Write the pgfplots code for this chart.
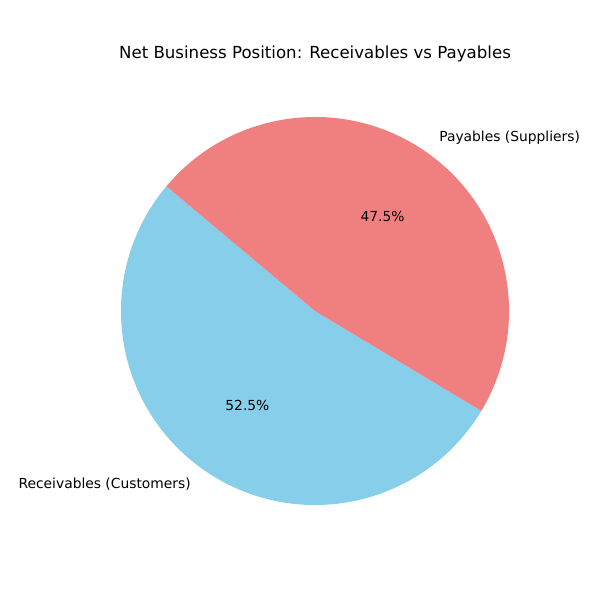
\documentclass[border=0pt]{standalone}
\usepackage{pgfplots}
\pgfplotsset{compat=1.18}
\usepackage{fontspec}
\setmainfont{DejaVu Sans}
\definecolor{skyb}{HTML}{87CEEB}
\definecolor{lcoral}{HTML}{F08080}
\begin{document}
\begin{tikzpicture}
\pgfmathsetmacro{\va}{52.5}% Receivables
\pgfmathsetmacro{\vb}{47.5}% Payables
\pgfmathsetmacro{\st}{140}
\pgfmathsetmacro{\ea}{\st+\va*3.6}
\pgfmathsetmacro{\eb}{\ea+\vb*3.6}
\begin{axis}[width=433.6pt,height=433.6pt,scale only axis,xmin=0,xmax=600,ymin=0,ymax=600,hide axis,clip=false]
\path[fill=white] (axis cs:0,0) rectangle (axis cs:600,600);
\fill[skyb] (axis cs:315,289) -- ++(\st:140.2pt) arc[start angle=\st,end angle=\ea,radius=140.2pt] -- cycle;
\fill[lcoral] (axis cs:315,289) -- ++(\ea:140.2pt) arc[start angle=\ea,end angle=\eb,radius=140.2pt] -- cycle;
\node[font=\fontsize{12}{14}\selectfont] at (axis cs:315,546) {Net Business Position: Receivables vs Payables};
\node[anchor=east,font=\fontsize{10}{12}\selectfont,inner sep=0pt] at (axis cs:191,115.6) {Receivables (Customers)};
\node[anchor=west,font=\fontsize{10}{12}\selectfont,inner sep=0pt] at (axis cs:439,462.4) {Payables (Suppliers)};
\node[font=\fontsize{10}{12}\selectfont] at (axis cs:247.4,194.2) {52.5\%};
\node[font=\fontsize{10}{12}\selectfont] at (axis cs:382.6,383.8) {47.5\%};
\end{axis}
\end{tikzpicture}
\end{document}
